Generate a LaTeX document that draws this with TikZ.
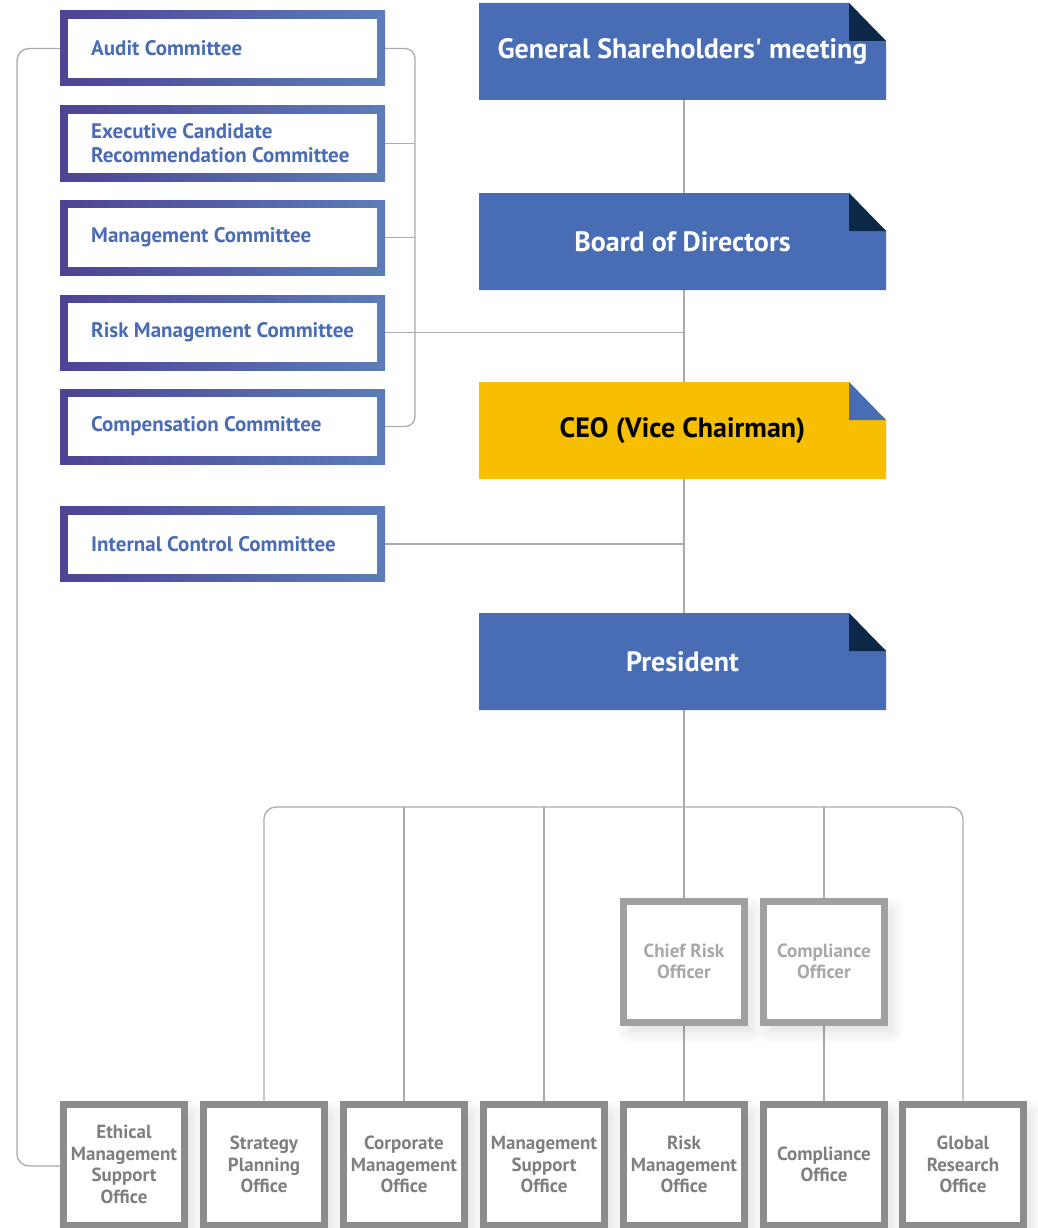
\documentclass[tikz,border=0pt]{standalone}
\usepackage{fontspec}
\setmainfont{PT Sans}
\newfontfamily\plainquote{PT Sans}[Ligatures=TeXOff]
\usetikzlibrary{backgrounds,shadows.blur,calc}
\definecolor{cpurple}{HTML}{4E4394}
\definecolor{cblue}{HTML}{5B7DB8}
\definecolor{ctext}{HTML}{4A6CB5}
\definecolor{boxblue}{HTML}{486DB4}
\definecolor{navy}{HTML}{0B2847}
\definecolor{ceoyellow}{HTML}{F8BE00}
\definecolor{linegray}{HTML}{ABABAB}
\definecolor{offborder}{HTML}{8C8C8C}
\definecolor{offtext}{HTML}{7F7F7F}
\definecolor{ofcborder}{HTML}{A0A0A0}
\definecolor{ofctext}{HTML}{A8A8A8}
\tikzset{
  conn/.style={draw=linegray, line width=1.3pt},
  combox/.style={shading=axis, left color=cpurple, right color=cblue, minimum width=325pt, minimum height=75pt, inner sep=0pt, draw=none},
  comtext/.style={text=ctext, font=\fontsize{21}{24}\selectfont\bfseries, align=left, anchor=west, inner sep=0pt},
  toptext/.style={font=\fontsize{28}{30}\selectfont\bfseries, minimum width=407pt, minimum height=97pt, inner sep=0pt},
  officebox/.style={draw=offborder, fill=white, line width=7pt, minimum width=121pt, minimum height=121pt, inner sep=0pt,
     text=offtext, font=\fontsize{19}{21.5}\selectfont\bfseries, align=center,
     blur shadow={shadow xshift=7pt, shadow yshift=-9pt, shadow blur radius=14pt, shadow blur steps=14, shadow opacity=14}},
  officerbox/.style={officebox, draw=ofcborder, text=ofctext}
}
\newcommand\committee[3]{%
  \node[combox] (#1) at (222.5,#2) {};
  \fill[white] (68,{#2-29.5}) rectangle (377,{#2+29.5});
  \node[comtext] at (91,#2) {#3};
}
\newcommand\topbox[6]{%
  \fill[#3] (479,#2) -- (849,#2) -- (886,{#2+38}) -- (886,{#2+97}) -- (479,{#2+97}) -- cycle;
  \fill[#4] (849,#2) -- (849,{#2+38}) -- (886,{#2+38}) -- cycle;
  \node[toptext, text=#6] (#1) at (682.5,{#2+48.5}) {#5};
}
\begin{document}
\begin{tikzpicture}[x=1pt,y=-1pt]
\useasboundingbox (0,0) rectangle (1037,1228);
% committees
\committee{audit}{48.5}{Audit Committee}
\committee{exec}{143.5}{Executive Candidate\\Recommendation Committee}
\committee{mgmt}{237.5}{Management Committee}
\committee{risk}{332.5}{Risk Management Committee}
\committee{comp}{426.5}{Compensation Committee}
\committee{internal}{544}{Internal Control Committee}
% top boxes
\topbox{gsm}{3}{boxblue}{navy}{General Shareholders{\plainquote\bfseries'} meeting}{white}
\topbox{board}{193}{boxblue}{navy}{Board of Directors}{white}
\topbox{ceo}{382}{ceoyellow}{boxblue}{CEO (Vice Chairman)}{black}
\topbox{pres}{613}{boxblue}{navy}{President}{white}
% officers
\node[officerbox] (cro) at (684,961.5) {Chief Risk\\Officer};
\node[officerbox] (co) at (824,961.5) {Compliance\\Officer};
% offices
\node[officebox] (ethical) at (124,1164.5) {Ethical\\Management\\Support\\Office};
\node[officebox] (strategy) at (264,1164.5) {Strategy\\Planning\\Office};
\node[officebox] (corporate) at (404,1164.5) {Corporate\\Management\\Office};
\node[officebox] (mgmtsup) at (544,1164.5) {Management\\Support\\Office};
\node[officebox] (riskoff) at (684,1164.5) {Risk\\Management\\Office};
\node[officebox] (compoff) at (824,1164.5) {Compliance\\Office};
\node[officebox] (global) at (963,1164.5) {Global\\Research\\Office};
\coordinate (spine) at (684,0);
\coordinate (bus) at (684,807);
\coordinate (brk) at (415,426.5);
\coordinate (lft) at (17,1166);
\begin{pgfonlayer}{background}
\draw[conn] (gsm.south -| spine) -- (board.north -| spine);
\draw[conn] (board.south -| spine) -- (ceo.north -| spine);
\draw[conn] (ceo.south -| spine) -- (pres.north -| spine);
\draw[conn] (pres.south -| spine) -- (bus);
\draw[conn] (risk.east) -- (risk.east -| spine);
\draw[conn] (internal.east) -- (internal.east -| spine);
\draw[conn, rounded corners=10pt] (audit.east) -| (brk) -- (comp.east);
\draw[conn] (exec.east) -- (exec.east -| brk);
\draw[conn] (mgmt.east) -- (mgmt.east -| brk);
\draw[conn, rounded corners=12pt] (audit.west) -| (lft) -- (ethical.west |- lft);
\draw[conn, rounded corners=12pt] (strategy.north) |- (bus) -| (global.north);
\draw[conn] (corporate.north) -- (corporate.north |- bus);
\draw[conn] (mgmtsup.north) -- (mgmtsup.north |- bus);
\draw[conn] (cro.north) -- (cro.north |- bus);
\draw[conn] (co.north) -- (co.north |- bus);
\draw[conn] (cro.south) -- (riskoff.north);
\draw[conn] (co.south) -- (compoff.north);
\end{pgfonlayer}
\end{tikzpicture}
\end{document}
